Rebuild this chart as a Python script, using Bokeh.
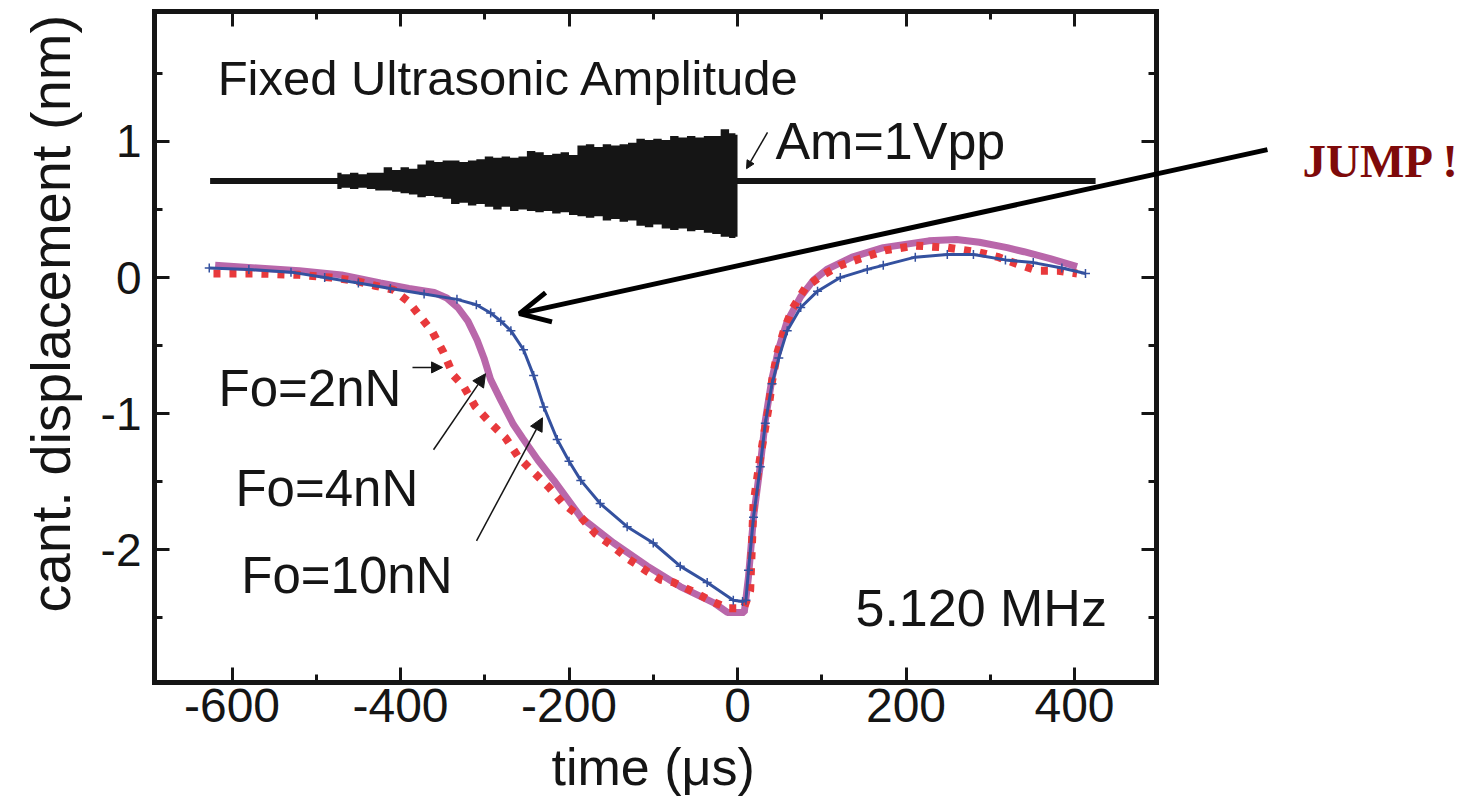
from bokeh.plotting import figure
from bokeh.models import (Range1d, FixedTicker, LinearAxis, Label, Arrow, Title,
                          OpenHead, NormalHead, PrintfTickFormatter)
from bokeh.embed import file_html
from bokeh.resources import INLINE

# ---------------- data ----------------
# Fo = 10 nN (blue, thin line with + markers)
blue_t = [-627, -580, -530, -490, -450, -412, -372, -333, -310, -293, -281, -269, -254,
          -242, -230, -214, -200, -186, -163, -131, -100, -68, -36, -5, 6, 10, 13, 19,
          27, 33, 41, 49, 59, 75, 95, 122, 154, 173, 211, 249, 280, 318, 351, 385, 413]
blue_d = [0.07, 0.06, 0.04, 0.0, -0.04, -0.08, -0.12, -0.16, -0.20, -0.26, -0.32, -0.39,
          -0.53, -0.72, -0.95, -1.19, -1.35, -1.49, -1.66, -1.83, -1.95, -2.12, -2.24,
          -2.37, -2.38, -2.37, -2.15, -1.76, -1.39, -1.07, -0.78, -0.59, -0.39, -0.22,
          -0.10, 0.0, 0.06, 0.09, 0.15, 0.17, 0.17, 0.13, 0.11, 0.07, 0.03]

# Fo = 4 nN (magenta, thick line)
mag_t = [-620, -570, -520, -470, -424, -390, -360, -345, -332, -320, -309, -301, -293,
         -281, -266, -255, -237, -218, -186, -147, -107, -68, -28, -12, 8, 13, 19, 27,
         33, 41, 49, 59, 75, 90, 106, 136, 173, 227, 260, 287, 320, 340, 371, 403]
mag_d = [0.09, 0.07, 0.05, 0.02, -0.04, -0.08, -0.11, -0.15, -0.22, -0.32, -0.46, -0.59,
         -0.75, -0.90, -1.08, -1.18, -1.34, -1.49, -1.76, -1.95, -2.12, -2.27, -2.39,
         -2.46, -2.46, -2.20, -1.76, -1.38, -1.05, -0.74, -0.52, -0.32, -0.14, -0.02,
         0.06, 0.15, 0.22, 0.27, 0.28, 0.26, 0.22, 0.19, 0.14, 0.08]

# Fo = 2 nN (red, square dots)
red_t = [-622, -570, -520, -483, -456, -430, -408, -390, -376, -362, -349, -337, -325,
         -311, -293, -275, -260, -242, -224, -207, -186, -169, -147, -129, -107, -91,
         -76, -52, -30, -11, 1, 8, 15, 19, 27, 37, 41, 47, 55, 65, 81, 100, 122, 146,
         175, 211, 249, 287, 310, 332, 356, 381, 403]
red_d = [0.03, 0.03, 0.02, 0.0, -0.02, -0.06, -0.09, -0.18, -0.29, -0.40, -0.55, -0.72,
         -0.80, -0.95, -1.07, -1.18, -1.32, -1.43, -1.54, -1.66, -1.76, -1.88, -1.98,
         -2.07, -2.16, -2.22, -2.24, -2.31, -2.38, -2.43, -2.43, -2.42, -2.30, -1.66,
         -1.32, -0.95, -0.76, -0.56, -0.39, -0.23, -0.07, 0.015, 0.09, 0.14, 0.20,
         0.235, 0.22, 0.185, 0.15, 0.10, 0.05, 0.05, 0.03]

# ultrasonic excitation burst (Am = 1 Vpp): baseline and envelope
base_t = [-626, 425]
base_d = [0.71, 0.71]
burst_t = [-475, -465, -455, -445, -435, -425, -415, -405, -395, -385, -375, -365,
           -355, -345, -335, -325, -315, -305, -295, -285, -275, -265, -255, -245,
           -235, -225, -215, -205, -195, -185, -175, -165, -155, -145, -135, -125,
           -115, -105, -95, -85, -75, -65, -55, -45, -35, -25, -15, -5, 0]
burst_hi = [0.77, 0.76, 0.77, 0.76, 0.77, 0.77, 0.81, 0.79, 0.81, 0.80, 0.83, 0.86,
            0.85, 0.86, 0.86, 0.85, 0.86, 0.87, 0.89, 0.88, 0.89, 0.88, 0.89, 0.93,
            0.92, 0.90, 0.91, 0.92, 0.90, 0.97, 0.98, 0.96, 0.98, 0.97, 0.98, 0.99,
            1.02, 1.01, 1.02, 1.01, 1.04, 1.03, 1.04, 1.03, 1.04, 1.04, 1.09, 1.06, 1.05]
burst_lo = [0.65, 0.66, 0.65, 0.66, 0.65, 0.64, 0.64, 0.63, 0.62, 0.61, 0.59, 0.60,
            0.59, 0.58, 0.54, 0.55, 0.53, 0.54, 0.52, 0.50, 0.52, 0.49, 0.50, 0.49,
            0.48, 0.49, 0.47, 0.48, 0.46, 0.45, 0.44, 0.45, 0.42, 0.43, 0.41, 0.42,
            0.38, 0.37, 0.39, 0.36, 0.35, 0.36, 0.34, 0.35, 0.33, 0.32, 0.30, 0.29, 0.30]

x_major = [-600, -400, -200, 0, 200, 400]
x_minor = [-500, -300, -100, 100, 300]
y_major = [-2, -1, 0, 1]
y_minor = [-2.5, -1.5, -0.5, 0.5, 1.5]

# axes box (data units)
X0, X1 = -692, 497.3
Y0, Y1 = -2.975, 1.955

BLUE = "#34519f"
MAG = "#b967aa"
RED = "#e8393c"
INK = "#151515"
FONT = "Liberation Sans"

# the plotting area also covers the right margin, so that the "JUMP !" note and its
# arrow can be drawn there; the box of the axes is drawn by the four axes
PX_PER_UNIT = 1002 / (X1 - X0)
X_END = X1 + (1460 - 1156) / PX_PER_UNIT

p = figure(width=1463, height=808,
           x_range=Range1d(X0, X_END), y_range=Range1d(Y0, Y1),
           output_backend="svg", toolbar_location=None,
           min_border_left=154, min_border_right=3,
           min_border_top=11, min_border_bottom=126)
p.grid.visible = False
p.outline_line_color = None
p.background_fill_color = "white"
p.border_fill_color = "white"

xt = FixedTicker(ticks=x_major, minor_ticks=x_minor)
yt = FixedTicker(ticks=y_major, minor_ticks=y_minor)


def style_axis(ax, labels=True):
    ax.axis_line_color = INK
    ax.axis_line_width = 5
    ax.axis_line_cap = "square"
    ax.major_tick_in = 15
    ax.major_tick_out = 0
    ax.minor_tick_in = 8
    ax.minor_tick_out = 0
    ax.major_tick_line_width = 3
    ax.minor_tick_line_width = 3
    ax.major_tick_line_color = INK
    ax.minor_tick_line_color = INK
    if labels:
        ax.major_label_text_font = FONT
        ax.major_label_text_color = INK
        ax.formatter = PrintfTickFormatter(format="%d")
    else:
        ax.major_label_text_font_size = "1px"
        ax.major_label_text_color = None
        ax.major_label_standoff = 0


p.xaxis.ticker = xt
p.yaxis.ticker = yt
p.xaxis.bounds = (X0, X1)
for ax in p.xaxis + p.yaxis:
    style_axis(ax)
p.xaxis.major_label_text_font_size = "48px"
p.yaxis.major_label_text_font_size = "46px"
p.xaxis.major_label_standoff = 6
p.yaxis.major_label_standoff = 13

top = LinearAxis(ticker=xt, bounds=(X0, X1))
right = LinearAxis(ticker=yt, fixed_location=X1)
style_axis(top, labels=False)
style_axis(right, labels=False)
p.add_layout(top, "above")
p.add_layout(right, "right")

# axis titles (placed as side titles so that they line up with the axes box,
# which is narrower than the plotting area)
x_title = Title(text="time (μs)", align="left", offset=397, standoff=22,
                text_font=FONT, text_font_size="52px", text_font_style="normal",
                text_color=INK)
y_title = Title(text="cant. displacement (nm)", align="left", offset=70, standoff=32,
                text_font=FONT, text_font_size="56px", text_font_style="normal",
                text_color=INK)
p.add_layout(x_title, "below")
p.add_layout(y_title, "left")

# ---------------- glyphs ----------------
p.line(base_t, base_d, line_color=INK, line_width=6)
p.varea_step(x=burst_t, y1=burst_lo, y2=burst_hi, fill_color=INK, step_mode="center")

p.line(mag_t, mag_d, line_color=MAG, line_width=7)
p.line(red_t, red_d, line_color=RED, line_width=8, line_dash="7 9")
p.line(blue_t, blue_d, line_color=BLUE, line_width=3)
p.scatter(blue_t, blue_d, marker="cross", size=9, line_color=BLUE, line_width=1.5)

# ---------------- annotations ----------------
def label(x, y, text, size, **kw):
    p.add_layout(Label(x=x, y=y, text=text, text_font=kw.pop("font", FONT),
                       text_font_size=size, text_color=kw.pop("color", INK),
                       text_baseline="alphabetic", **kw))


label(-617, 1.463, "Fixed Ultrasonic Amplitude", "49px")
label(45, 1.007, "Am=1Vpp", "52px")
label(-616, -0.816, "Fo=2nN", "51px")
label(-596, -1.55, "Fo=4nN", "51px")
label(-589, -2.19, "Fo=10nN", "51px")
label(140, -2.426, "5.120 MHz", "52px")
label(670.6, 0.86, "JUMP !", "47px", font="Liberation Serif",
      color="#7e0a0a", text_font_style="bold")


def thin_arrow(x0, y0, x1, y1, size=13):
    p.add_layout(Arrow(end=NormalHead(size=size, fill_color=INK, line_color=INK, line_width=1),
                       x_start=x0, y_start=y0, x_end=x1, y_end=y1,
                       line_color=INK, line_width=1.5))


thin_arrow(-385.8, -0.66, -350.1, -0.66, size=11)
thin_arrow(-360.8, -1.265, -299.1, -0.706)
thin_arrow(-309.8, -1.934, -231.5, -1.03)
thin_arrow(35.6, 1.066, 10.7, 0.80, size=8)

p.add_layout(Arrow(end=OpenHead(size=30, line_width=5, line_color="black"),
                   x_start=629, y_start=0.94, x_end=-258.8, y_end=-0.265,
                   line_color="black", line_width=5))

open("out.html", "w").write(file_html(p, INLINE))
